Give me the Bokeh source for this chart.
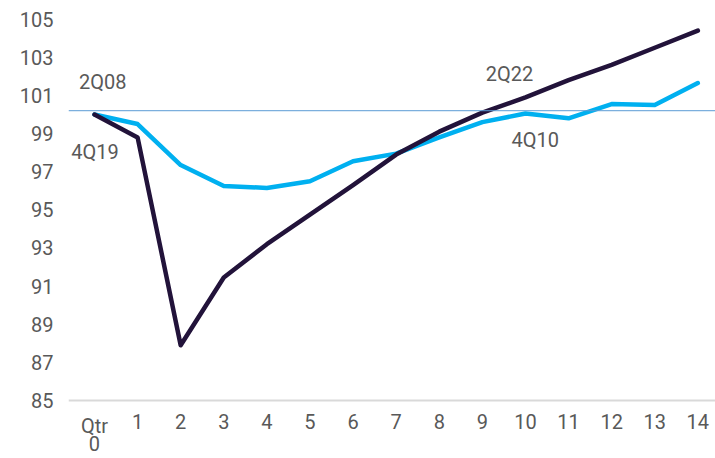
from bokeh.plotting import figure
from bokeh.models import FixedTicker, Span, Label, ColumnDataSource
from bokeh.core.properties import value
from bokeh.embed import file_html
from bokeh.resources import INLINE

quarters = list(range(15))
tick_labels = ["Qtr\n0"] + [str(i) for i in range(1, 15)]
cycle_2019 = [100, 98.8, 87.9, 91.45, 93.2, 94.75, 96.3, 97.9, 99.1, 100.1, 100.9, 101.8, 102.6, 103.5, 104.4]
cycle_2008 = [100, 99.5, 97.35, 96.25, 96.15, 96.5, 97.55, 97.95, 98.8, 99.6, 100.05, 99.8, 100.55, 100.5, 101.65]
ref_level = 100.2
y_min = 85
y_ticks = [85, 87, 89, 91, 93, 95, 97, 99, 101, 103, 105]

px_per_unit = 19.07
p = figure(width=715, height=458, output_backend="svg", toolbar_location=None,
           x_range=(-0.603, 14.41), y_range=(y_min - 58 / px_per_unit, 105.98))
p.min_border_left = 68
p.min_border_right = 0
p.min_border_top = 0
p.min_border_bottom = 0
p.outline_line_color = None
p.xgrid.grid_line_color = None
p.ygrid.grid_line_color = None
p.background_fill_color = "white"
p.border_fill_color = "white"
p.xaxis.visible = False

font = "Roboto"
grey = "#595959"

# reference line and category axis baseline
p.add_layout(Span(location=ref_level, dimension="width", line_color="#5B9BD5", line_width=1))
p.add_layout(Span(location=y_min, dimension="width", line_color="#D9D9D9", line_width=2))

p.line(quarters, cycle_2008, line_color="#00B0F0", line_width=4.5, line_join="round", line_cap="round")
p.line(quarters, cycle_2019, line_color="#22133A", line_width=4.5, line_join="round", line_cap="round")

# x tick labels, one text glyph per line of each label
first_lines = [t.split("\n")[0] for t in tick_labels]
second = [(q, t.split("\n")[1]) for q, t in zip(quarters, tick_labels) if "\n" in t]
src1 = ColumnDataSource(dict(x=quarters, y=[y_min - 13 / px_per_unit] * len(quarters), t=first_lines))
src2 = ColumnDataSource(dict(x=[q for q, _ in second], y=[y_min - 35 / px_per_unit] * len(second),
                             t=[s for _, s in second]))
for src in (src1, src2):
    p.text(x="x", y="y", text="t", source=src, text_font=value(font), text_font_size="20px",
           text_color=grey, text_align="center", text_baseline="top")

p.yaxis.ticker = FixedTicker(ticks=y_ticks)
ax = p.yaxis[0]
ax.major_tick_line_color = None
ax.minor_tick_line_color = None
ax.major_tick_out = 0
ax.major_label_text_font = font
ax.major_label_text_font_size = "20px"
ax.major_label_text_color = grey
ax.axis_line_color = None
ax.major_label_standoff = 15

labels = [("2Q08", 0.19, 101.73), ("4Q19", 0.01, 98.04), ("2Q22", 9.63, 102.12), ("4Q10", 10.23, 98.66)]
for txt, x, y in labels:
    p.add_layout(Label(x=x, y=y, text=txt, text_font=font, text_font_size="20px",
                       text_color=grey, text_align="center", text_baseline="middle"))

open("out.html", "w").write(file_html(p, INLINE))
